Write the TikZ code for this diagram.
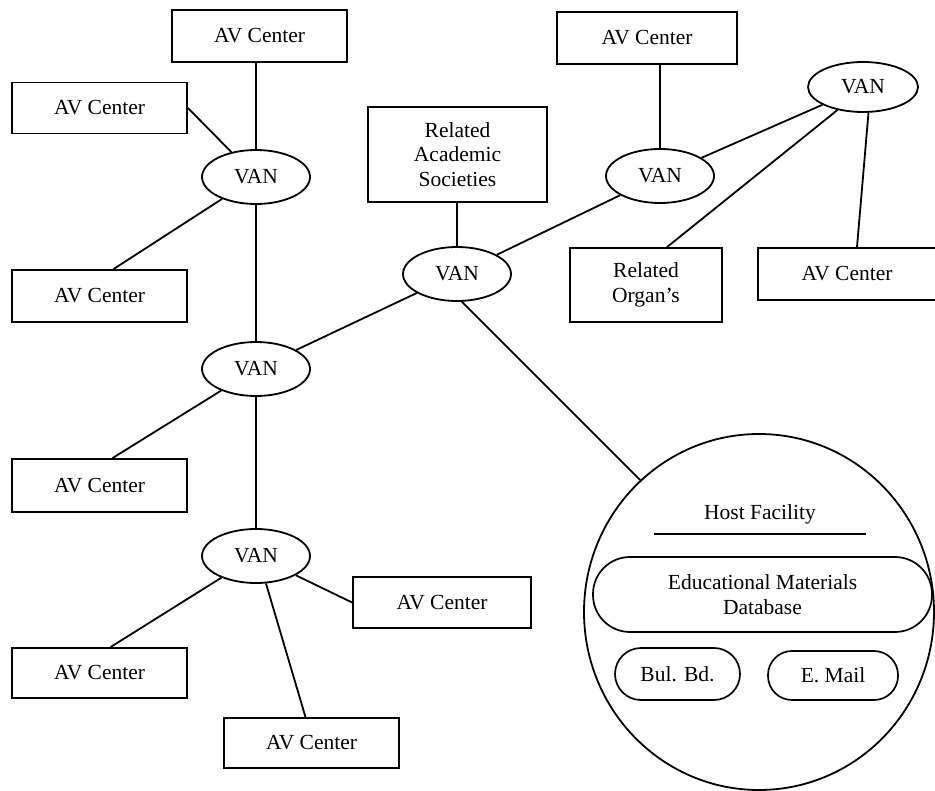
\documentclass[tikz,border=0pt]{standalone}
\usepackage{fontspec}
\setmainfont{Liberation Serif}
\usetikzlibrary{shapes.geometric}
\newcommand\dgfont{\fontsize{21.5}{24.5}\selectfont}
\tikzset{
  every node/.style={font=\dgfont, inner sep=0pt},
  box/.style={draw, rectangle, line width=1.8pt, align=center, minimum width=175pt, minimum height=51pt},
  van/.style={draw, ellipse, line width=1.8pt, minimum width=108pt, minimum height=54pt},
  pill/.style={draw, rectangle, line width=1.7pt, align=center},
  conn/.style={line width=1.8pt}
}
\begin{document}
\begin{tikzpicture}[x=1pt, y=-1pt]
\useasboundingbox (0,0) rectangle (935,791);
% boxes
\node[box, minimum height=52pt] (avA) at (259.5,36) {AV Center};
\node[box] (avB) at (99.5,108) {AV Center};
\node[box, minimum height=52pt] (avC) at (99.5,296) {AV Center};
\node[box, minimum height=53pt] (avD) at (99.5,485.5) {AV Center};
\node[box, minimum width=178pt] (avE) at (442,602.5) {AV Center};
\node[box, minimum height=50pt] (avF) at (99.5,673) {AV Center};
\node[box, minimum height=50pt] (avG) at (311.5,743) {AV Center};
\node[box, minimum width=180pt, minimum height=52pt] (avH) at (647,38) {AV Center};
\node[box, minimum width=178pt, minimum height=52pt] (avI) at (847,274) {AV Center};
\node[box, minimum width=179pt, minimum height=95pt] (rel) at (457.5,154.5) {Related\\Academic\\Societies};
\node[box, minimum width=152pt, minimum height=74pt] (org) at (646,285) {Related\\Organ's};
% VAN ellipses
\node[van] (van1) at (256,177) {VAN};
\node[van] (van2) at (256,369) {VAN};
\node[van] (van3) at (457,274) {VAN};
\node[van] (van4) at (660,176) {VAN};
\node[van, minimum width=110pt, minimum height=50pt] (van5) at (863,87) {VAN};
\node[van] (van6) at (256,556) {VAN};
% host facility
\node[draw, ellipse, line width=1.8pt, minimum width=350pt, minimum height=356pt] (host) at (759,612) {};
\node (hf) at (760,514) {Host Facility};
\draw[line width=1.8pt] (654,534) -- (866,534);
\node[pill, minimum width=339pt, minimum height=75pt, rounded corners=37pt] (edu) at (762.5,594.5) {Educational Materials\\Database};
\node[pill, minimum width=125pt, minimum height=52pt, rounded corners=26pt] (bul) at (677.5,674) {Bul. Bd.};
\node[pill, minimum width=130pt, minimum height=49pt, rounded corners=24pt] (mail) at (833,675.5) {E. Mail};
% connectors
\draw[conn] (van1.north) -- (van1.north |- avA.south);
\draw[conn] (avB.east) -- (van1);
\draw[conn] (van1) -- ([xshift=14pt]avC.north);
\draw[conn] (van1.south) -- (van2.north);
\draw[conn] (van2) -- (van3);
\draw[conn] (van3.north) -- (van3.north |- rel.south);
\draw[conn] (van3) -- (van4);
\draw[conn] (van4.north) -- (van4.north |- avH.south);
\draw[conn] (van5) -- (van4);
\draw[conn] (van5.222) -- ([xshift=21pt]org.north);
\draw[conn] (van5.-78) -- ([xshift=10pt]avI.north);
\draw[conn] (van2) -- ([xshift=13pt]avD.north);
\draw[conn] (van2.south) -- (van6.north);
\draw[conn] (van6) -- (avE.west);
\draw[conn] (van6) -- ([xshift=11pt]avF.north);
\draw[conn] (van6.-70) -- ([xshift=-6pt]avG.north);
\draw[conn] (van3.-80) -- (host.132);
\end{tikzpicture}
\end{document}
